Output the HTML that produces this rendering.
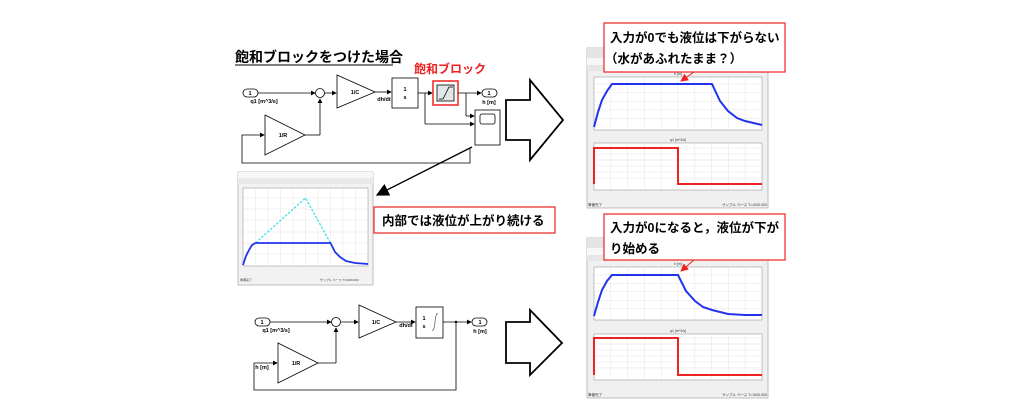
<!DOCTYPE html>
<html><head><meta charset="utf-8"><style>
html,body{margin:0;padding:0;background:#fff;width:1024px;height:415px;overflow:hidden}
svg{display:block}
text{font-family:"Liberation Sans","Noto Sans CJK JP",sans-serif}
</style></head><body>
<svg width="1024" height="415" viewBox="0 0 1024 415" xmlns="http://www.w3.org/2000/svg">
<defs>
<marker id="a" markerWidth="6" markerHeight="6" refX="5" refY="3" orient="auto"><path d="M0,0L6,3L0,6z" fill="#000"/></marker>
<marker id="r" markerWidth="8" markerHeight="8" refX="7" refY="4" orient="auto"><path d="M0,0L8,4L0,8z" fill="#e22"/></marker>
<marker id="b" markerWidth="10" markerHeight="10" refX="9" refY="5" orient="auto"><path d="M0,0L10,5L0,10z" fill="#000"/></marker>
</defs>

<text x="235" y="62" font-size="14" font-weight="bold">飽和ブロックをつけた場合</text>
<line x1="235" y1="65" x2="393" y2="65" stroke="#000" stroke-width="1"/>
<text x="414" y="73" font-size="12" font-weight="bold" fill="#e22">飽和ブロック</text>

<g stroke="#000" stroke-width="0.8" fill="none">
<rect x="243" y="89" width="15" height="8" rx="4" fill="#fff"/>
<line x1="258" y1="93" x2="315" y2="93" marker-end="url(#a)"/>
<circle cx="320" cy="93" r="4.5" fill="#fff"/>
<line x1="325" y1="93" x2="336" y2="93" marker-end="url(#a)"/>
<path d="M337,75 L375,92 L337,108 z" fill="#fff"/>
<line x1="375" y1="92" x2="391" y2="92" marker-end="url(#a)"/>
<rect x="392" y="78" width="26" height="30" fill="#fff"/>
<line x1="418" y1="93" x2="432" y2="93" marker-end="url(#a)"/>
<rect x="433" y="81" width="25" height="24" stroke="#e22" stroke-width="1.5"/>
<rect x="437" y="85" width="17" height="16" fill="#dfe8e6"/>
<path d="M439,99 L443,99 L449,87 L453,87"/>
<line x1="458" y1="93" x2="481" y2="93" marker-end="url(#a)"/>
<rect x="482" y="89" width="15" height="8" rx="4" fill="#fff"/>
<line x1="425" y1="93" x2="425" y2="124" /><line x1="425" y1="124" x2="474" y2="124" marker-end="url(#a)"/>
<line x1="466" y1="93" x2="466" y2="116"/><line x1="466" y1="116" x2="474" y2="116" marker-end="url(#a)"/>
<rect x="475" y="110" width="25" height="35" fill="#fff"/>
<rect x="480" y="114" width="15" height="10" rx="2"/>
<path d="M265,115 L305,135 L265,155 z" fill="#fff"/>
<line x1="305" y1="135" x2="320" y2="135"/><line x1="320" y1="135" x2="320" y2="99" marker-end="url(#a)"/>
<path d="M470,148 L470,163 L242,163 L242,135 L264,135" marker-end="url(#a)"/>
</g>
<g font-size="5.5" font-weight="bold" text-anchor="middle">
<text x="250" y="95">1</text><text x="489" y="95">1</text>
<text x="355" y="94">1/C</text><text x="283" y="137">1/R</text>
<text x="405" y="91">1</text><text x="405" y="99">s</text>
<text x="264" y="103">q1 [m^3/s]</text><text x="384" y="101">dh/dt</text><text x="489" y="104">h [m]</text>
</g>
<line x1="472" y1="147" x2="377" y2="195" stroke="#000" stroke-width="1.3" marker-end="url(#b)"/>

<rect x="238" y="172" width="135" height="113" fill="#f2f2f2" stroke="#999" stroke-width="0.6"/>
<rect x="238" y="172" width="135" height="6" fill="#f7f7f7"/>
<rect x="238" y="178" width="135" height="6" fill="#e9e9e9"/>
<rect x="243" y="188" width="125" height="78" fill="#fff" stroke="#888" stroke-width="0.5"/>
<g stroke="#ddd" stroke-width="0.4">
<line x1="255.5" y1="188" x2="255.5" y2="266"/><line x1="268" y1="188" x2="268" y2="266"/><line x1="280.5" y1="188" x2="280.5" y2="266"/><line x1="293" y1="188" x2="293" y2="266"/><line x1="305.5" y1="188" x2="305.5" y2="266"/><line x1="318" y1="188" x2="318" y2="266"/><line x1="330.5" y1="188" x2="330.5" y2="266"/><line x1="343" y1="188" x2="343" y2="266"/><line x1="355.5" y1="188" x2="355.5" y2="266"/>
<line x1="243" y1="198" x2="368" y2="198"/><line x1="243" y1="209" x2="368" y2="209"/><line x1="243" y1="220" x2="368" y2="220"/><line x1="243" y1="232" x2="368" y2="232"/><line x1="243" y1="243" x2="368" y2="243"/><line x1="243" y1="254" x2="368" y2="254"/>
</g>
<polyline points="255.5,243 305.5,198 330.5,243" fill="none" stroke="#3de0e8" stroke-width="1.3" stroke-dasharray="2.5,1.5"/>
<polyline points="243,265 246,256 249,250 252,245 255.5,243 330.5,243 335,252 340,257 346,261 355,263 368,264" fill="none" stroke="#2233ee" stroke-width="1.8"/>
<g font-size="3" fill="#333"><text x="240" y="281">準備完了</text><text x="320" y="281">サンプル ベース T=1000.000</text></g>

<rect x="374" y="207" width="181" height="26" fill="#fff" stroke="#e22" stroke-width="1.2"/>
<text x="382" y="225" font-size="12.5" font-weight="bold">内部では液位が上がり続ける</text>

<g stroke="#000" stroke-width="0.8" fill="none">
<rect x="255" y="318" width="15" height="8" rx="4" fill="#fff"/>
<line x1="270" y1="322" x2="331" y2="322" marker-end="url(#a)"/>
<circle cx="336" cy="322" r="4.5" fill="#fff"/>
<line x1="341" y1="322" x2="358" y2="322" marker-end="url(#a)"/>
<path d="M359,305 L396,322 L359,338 z" fill="#fff"/>
<line x1="396" y1="322" x2="415" y2="322" marker-end="url(#a)"/>
<rect x="416" y="307" width="27" height="31" fill="#fff"/>
<path d="M432,330 Q434,332 435,322 Q436,312 438,314" stroke="#666"/>
<line x1="443" y1="322" x2="471" y2="322" marker-end="url(#a)"/>
<rect x="472" y="318" width="15" height="8" rx="4" fill="#fff"/>
<path d="M278,343 L318,363 L278,383 z" fill="#fff"/>
<line x1="318" y1="363" x2="336" y2="363"/><line x1="336" y1="363" x2="336" y2="328" marker-end="url(#a)"/>
<path d="M456,322 L456,390 L254,390 L254,363 L277,363" marker-end="url(#a)"/>
</g>
<circle cx="456" cy="322" r="1.2"/>
<g font-size="5.5" font-weight="bold" text-anchor="middle">
<text x="262" y="324">1</text><text x="480" y="324">1</text>
<text x="376" y="324">1/C</text><text x="296" y="365">1/R</text>
<text x="424" y="320">1</text><text x="424" y="328">s</text>
<text x="276" y="332">q1 [m^3/s]</text><text x="406" y="327">dh/dt</text><text x="480" y="333">h [m]</text><text x="262" y="369">h [m]</text>
</g>

<path d="M506,100 L530,100 L530,80 L563,120 L530,160 L530,140 L506,140 z" fill="#fff" stroke="#000" stroke-width="1.8"/>
<path d="M506,322 L530,322 L530,310 L562,343 L530,375 L530,363 L506,363 z" fill="#fff" stroke="#000" stroke-width="1.8"/>

<g>
<rect x="587" y="48" width="181" height="160" fill="#f0f0f0" stroke="#999" stroke-width="0.6"/>
<rect x="587" y="48" width="181" height="10" fill="#e4e4e4"/>
<rect x="587" y="58" width="181" height="7" fill="#f7f7f7"/>
<rect x="587" y="65" width="181" height="6" fill="#e6e6e6"/>
<rect x="594" y="77" width="168" height="53" fill="#fff" stroke="#888" stroke-width="0.5"/>
<rect x="594" y="143" width="168" height="47" fill="#fff" stroke="#888" stroke-width="0.5"/>
<g stroke="#ddd" stroke-width="0.4">
<path d="M610.8,77V130M627.6,77V130M644.4,77V130M661.2,77V130M678,77V130M694.8,77V130M711.6,77V130M728.4,77V130M745.2,77V130"/>
<path d="M594,84H762M594,92.6H762M594,101.2H762M594,109.8H762M594,118.4H762"/>
<path d="M610.8,143V190M627.6,143V190M644.4,143V190M661.2,143V190M678,143V190M694.8,143V190M711.6,143V190M728.4,143V190M745.2,143V190"/>
<path d="M594,148H762M594,154H762M594,160H762M594,166H762M594,172H762M594,178H762"/>
</g>
<polyline points="594,127 598,112 602,100 607,91 612,84 712,84 720,101 728,111 737,118 745,121 762,125" fill="none" stroke="#2233ee" stroke-width="2"/>
<polyline points="594,184 594,148 678,148 678,184 762,184" fill="none" stroke="#e22" stroke-width="2"/>
<g font-size="3.5" fill="#333"><text x="588" y="206">準備完了</text><text x="722" y="206">サンプル ベース T=1000.000</text>
<text x="674" y="75">h [m]</text><text x="670" y="141">q1 [m^3/s]</text></g>
</g>

<g>
<rect x="587" y="238" width="181" height="160" fill="#f0f0f0" stroke="#999" stroke-width="0.6"/>
<rect x="587" y="238" width="181" height="10" fill="#e4e4e4"/>
<rect x="587" y="248" width="181" height="7" fill="#f7f7f7"/>
<rect x="587" y="255" width="181" height="6" fill="#e6e6e6"/>
<rect x="594" y="267" width="168" height="53" fill="#fff" stroke="#888" stroke-width="0.5"/>
<rect x="594" y="334" width="168" height="46" fill="#fff" stroke="#888" stroke-width="0.5"/>
<g stroke="#ddd" stroke-width="0.4">
<path d="M610.8,267V320M627.6,267V320M644.4,267V320M661.2,267V320M678,267V320M694.8,267V320M711.6,267V320M728.4,267V320M745.2,267V320"/>
<path d="M594,275H762M594,283.4H762M594,291.8H762M594,300.2H762M594,308.6H762"/>
<path d="M610.8,334V380M627.6,334V380M644.4,334V380M661.2,334V380M678,334V380M694.8,334V380M711.6,334V380M728.4,334V380M745.2,334V380"/>
<path d="M594,338H762M594,344H762M594,350H762M594,356H762M594,362H762M594,368H762"/>
</g>
<polyline points="594,316 598,302 602,290 607,281 612,275 678,275 686,291 695,301 703,307 712,310 728,314 745,315 762,315" fill="none" stroke="#2233ee" stroke-width="2"/>
<polyline points="594,375 594,338 678,338 678,375 762,375" fill="none" stroke="#e22" stroke-width="2"/>
<g font-size="3.5" fill="#333"><text x="588" y="396">準備完了</text><text x="722" y="396">サンプル ベース T=1000.000</text>
<text x="674" y="265">h [m]</text><text x="670" y="332">q1 [m^3/s]</text></g>
</g>

<rect x="604" y="23" width="181" height="49" fill="#fff" stroke="#e22" stroke-width="1.2"/>
<text x="610" y="42" font-size="12.5" font-weight="bold">入力が0でも液位は下がらない</text>
<text x="605" y="63" font-size="12.5" font-weight="bold">（水があふれたまま？）</text>
<line x1="694" y1="72" x2="681" y2="81" stroke="#e22" stroke-width="1" marker-end="url(#r)"/>

<rect x="604" y="214" width="181" height="46" fill="#fff" stroke="#e22" stroke-width="1.2"/>
<text x="610" y="232" font-size="12.5" font-weight="bold">入力が0になると，液位が下が</text>
<text x="610" y="253" font-size="12.5" font-weight="bold">り始める</text>
<line x1="694" y1="260" x2="681" y2="271" stroke="#e22" stroke-width="1" marker-end="url(#r)"/>
</svg>
</body></html>
